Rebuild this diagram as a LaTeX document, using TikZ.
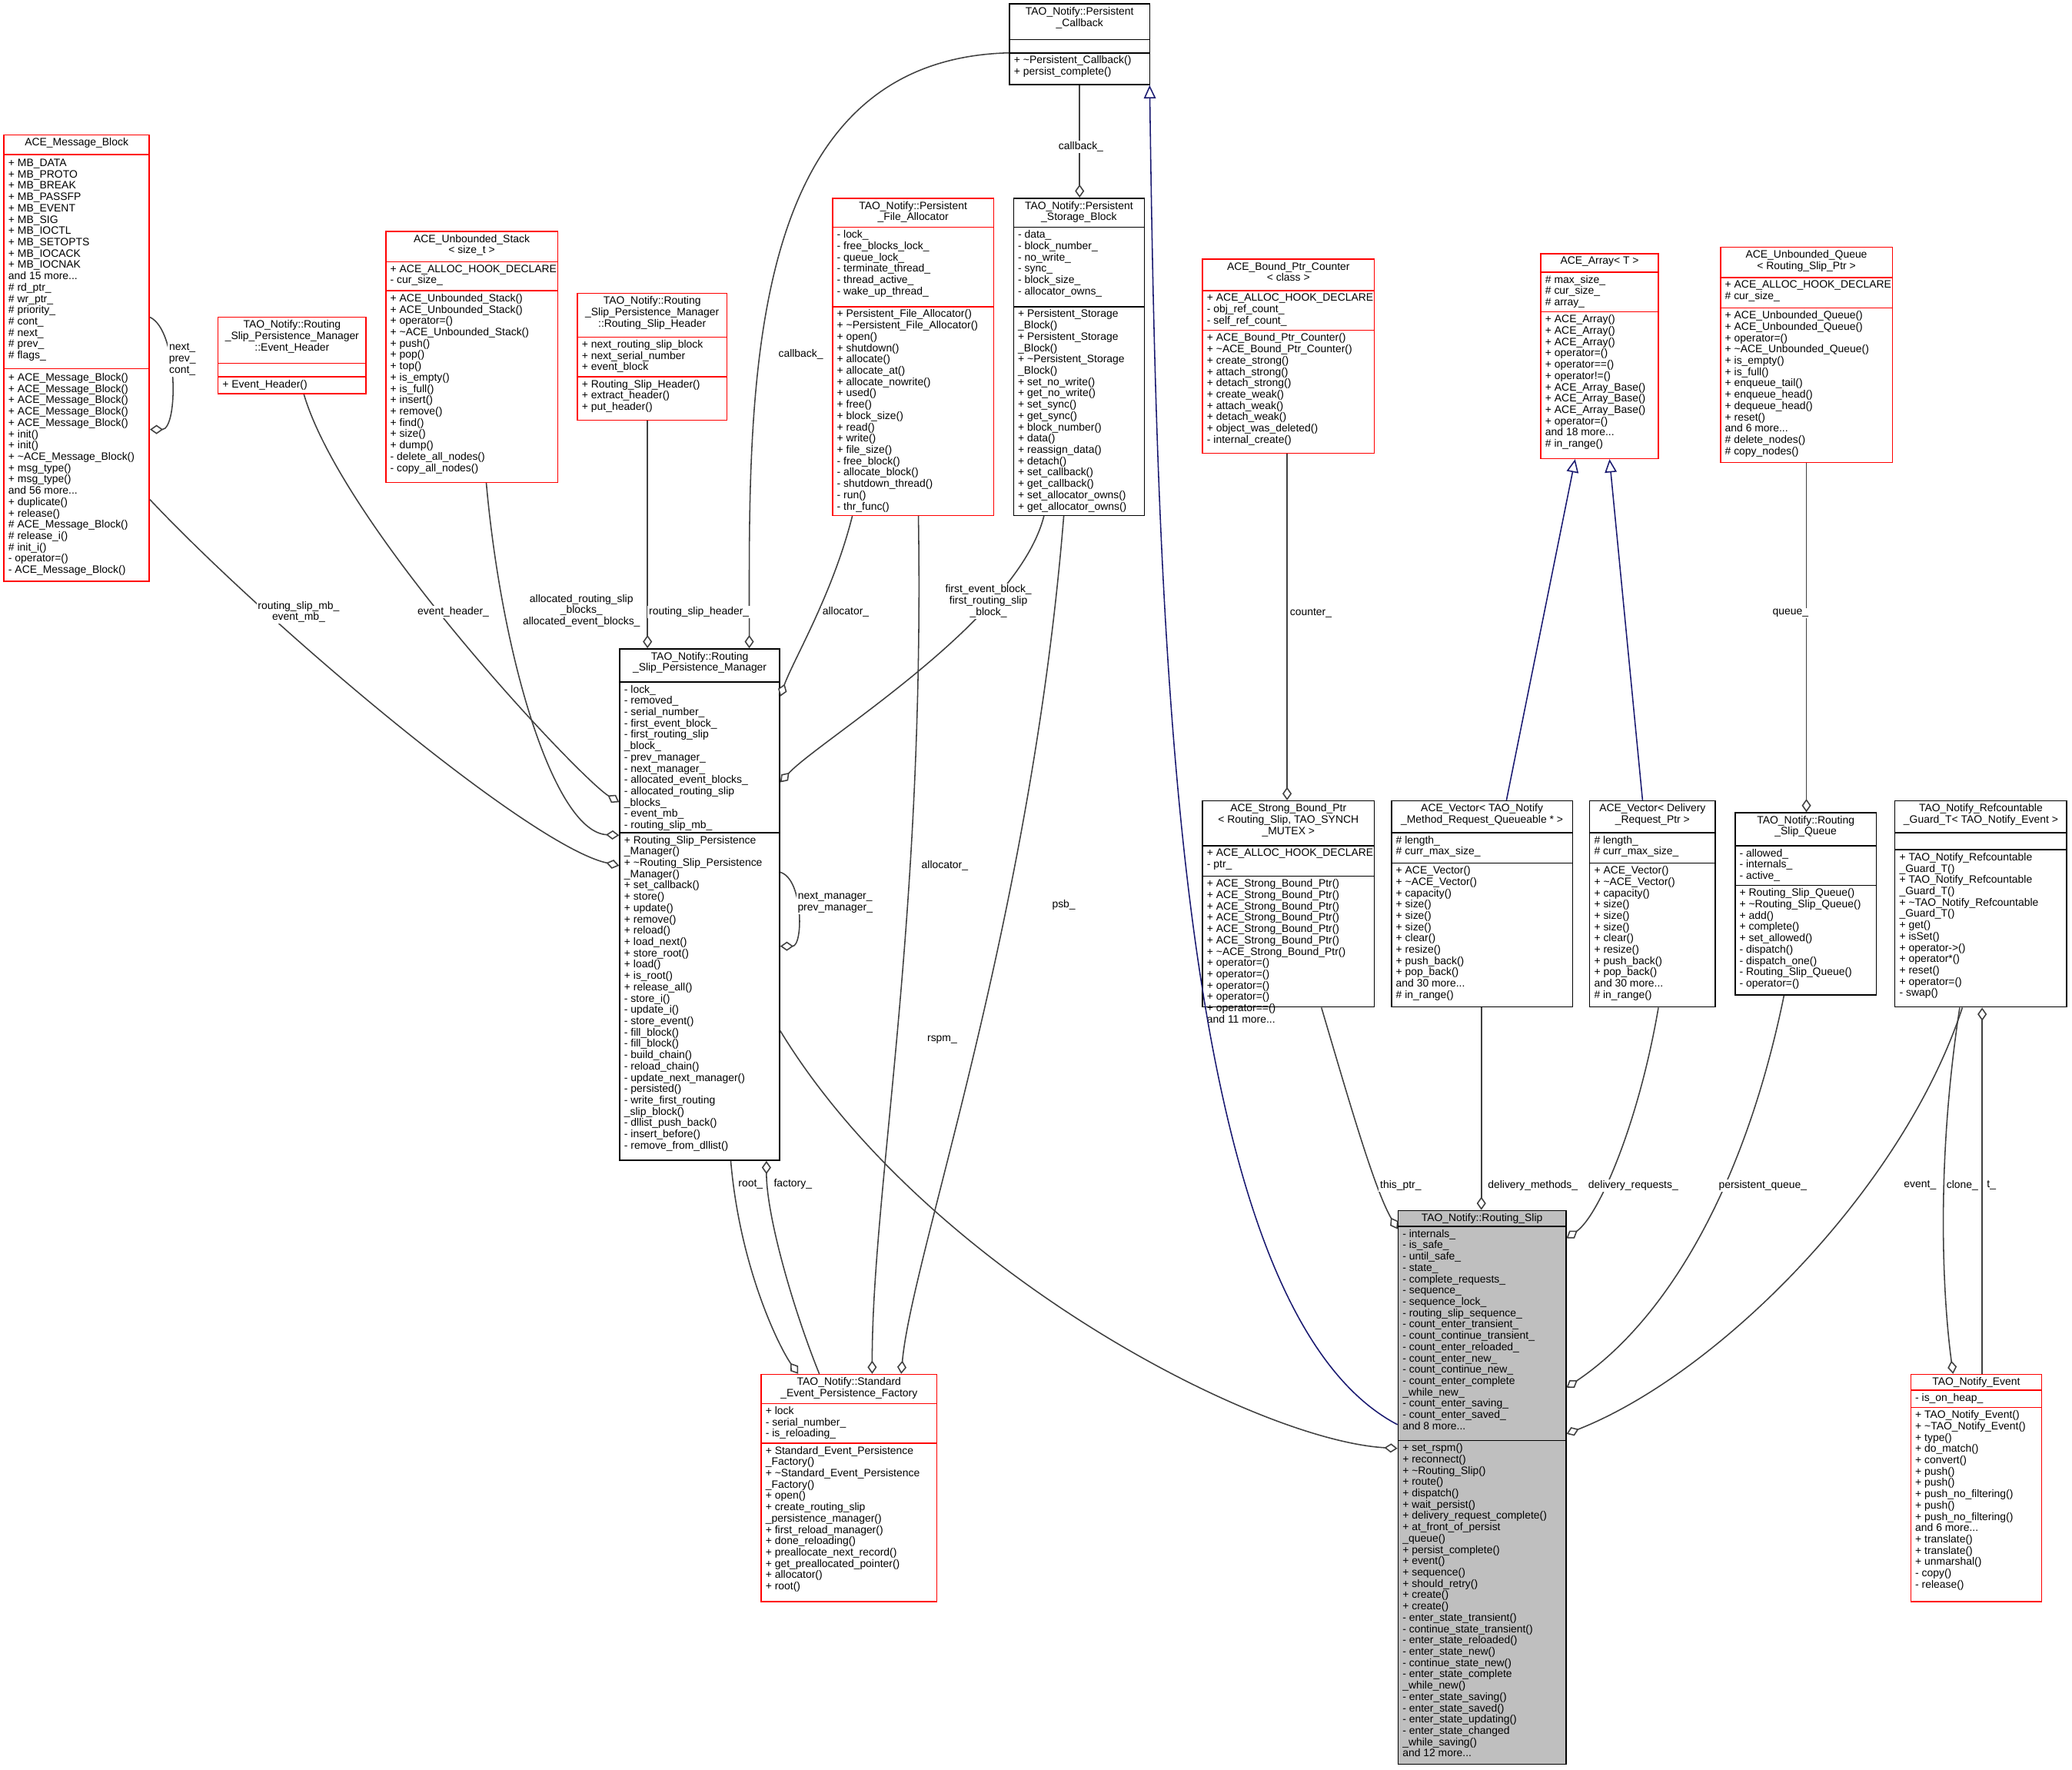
\documentclass[tikz,border=0pt]{standalone}
\usepackage{fontspec}
\setmainfont{Liberation Sans}
\usetikzlibrary{arrows.meta,fit}
\definecolor{navy}{HTML}{191970}
\tikzset{
 every picture/.style={x=0.5pt,y=-0.5pt},
 tx/.style={font=\fontsize{4.05}{4.28}\selectfont, inner sep=0, align=left, anchor=north west},
 tt/.style={font=\fontsize{4.05}{4.28}\selectfont, inner sep=0, align=center, anchor=north},
 lb/.style={font=\fontsize{4.05}{4.28}\selectfont, inner sep=0.5pt, align=center, fill=white},
 agg/.style={draw=black!75, line width=0.45pt, -{Diamond[length=5pt,width=3.5pt,fill=white]}},
 inh/.style={draw=navy, line width=0.45pt, -{Triangle[length=5pt,width=4.5pt,fill=white]}},
}
\newcommand\cls[8]{%
 \coordinate (#1-nw) at (#2,#3); \coordinate (#1-se) at (#4,#7);
 \node[fit=(#1-nw)(#1-se), inner sep=0, draw=#8, line width=0.45pt] (#1) {};
 \draw[draw=#8, line width=0.45pt] (#2,#5) -- (#4,#5) (#2,#6) -- (#4,#6);
}
\begin{document}
\begin{tikzpicture}
\useasboundingbox (0,0) rectangle (1568,1339);
\fill[white] (0,0) rectangle (1568,1339);
\fill[gray!50] (1058,916) rectangle (1185,1335);
% classes
\cls{pc}{764}{3}{870}{30}{40}{64}{black}
\node[tt] (pc-t) at (817,5) {TAO\_Notify::Persistent\\\_Callback};
\node[tx] (pc-m) at (767,42) {+ \textasciitilde Persistent\_Callback()\\+ persist\_complete()};

\cls{mb}{3}{102}{113}{117}{279}{440}{red}
\node[tt] (mb-t) at (58,104) {ACE\_Message\_Block};
\node[tx] (mb-a) at (6,120) {+ MB\_DATA\\+ MB\_PROTO\\+ MB\_BREAK\\+ MB\_PASSFP\\+ MB\_EVENT\\+ MB\_SIG\\+ MB\_IOCTL\\+ MB\_SETOPTS\\+ MB\_IOCACK\\+ MB\_IOCNAK\\and 15 more...\\\# rd\_ptr\_\\\# wr\_ptr\_\\\# priority\_\\\# cont\_\\\# next\_\\\# prev\_\\\# flags\_};
\node[tx] (mb-m) at (6,282) {+ ACE\_Message\_Block()\\+ ACE\_Message\_Block()\\+ ACE\_Message\_Block()\\+ ACE\_Message\_Block()\\+ ACE\_Message\_Block()\\+ init()\\+ init()\\+ \textasciitilde ACE\_Message\_Block()\\+ msg\_type()\\+ msg\_type()\\and 56 more...\\+ duplicate()\\+ release()\\\# ACE\_Message\_Block()\\\# release\_i()\\\# init\_i()\\- operator=()\\- ACE\_Message\_Block()};

\cls{eh}{165}{240}{277}{275}{285}{298}{red}
\node[tt] (eh-t) at (221,242) {TAO\_Notify::Routing\\\_Slip\_Persistence\_Manager\\::Event\_Header};
\node[tx] (eh-m) at (168,287) {+ Event\_Header()};

\cls{stk}{292}{175}{422}{198}{220}{365}{red}
\node[tt] (stk-t) at (357,177) {ACE\_Unbounded\_Stack\\< size\_t >};
\node[tx] (stk-a) at (295,200) {+ ACE\_ALLOC\_HOOK\_DECLARE\\- cur\_size\_};
\node[tx] (stk-m) at (295,222) {+ ACE\_Unbounded\_Stack()\\+ ACE\_Unbounded\_Stack()\\+ operator=()\\+ \textasciitilde ACE\_Unbounded\_Stack()\\+ push()\\+ pop()\\+ top()\\+ is\_empty()\\+ is\_full()\\+ insert()\\+ remove()\\+ find()\\+ size()\\+ dump()\\- delete\_all\_nodes()\\- copy\_all\_nodes()};

\cls{rsh}{437}{222}{550}{255}{285}{318}{red}
\node[tt] (rsh-t) at (493.5,224) {TAO\_Notify::Routing\\\_Slip\_Persistence\_Manager\\::Routing\_Slip\_Header};
\node[tx] (rsh-a) at (440,257) {+ next\_routing\_slip\_block\\+ next\_serial\_number\\+ event\_block};
\node[tx] (rsh-m) at (440,287) {+ Routing\_Slip\_Header()\\+ extract\_header()\\+ put\_header()};

\cls{fa}{630}{150}{752}{172}{232}{390}{red}
\node[tt] (fa-t) at (691,152) {TAO\_Notify::Persistent\\\_File\_Allocator};
\node[tx] (fa-a) at (633,174) {- lock\_\\- free\_blocks\_lock\_\\- queue\_lock\_\\- terminate\_thread\_\\- thread\_active\_\\- wake\_up\_thread\_};
\node[tx] (fa-m) at (633,234) {+ Persistent\_File\_Allocator()\\+ \textasciitilde Persistent\_File\_Allocator()\\+ open()\\+ shutdown()\\+ allocate()\\+ allocate\_at()\\+ allocate\_nowrite()\\+ used()\\+ free()\\+ block\_size()\\+ read()\\+ write()\\+ file\_size()\\- free\_block()\\- allocate\_block()\\- shutdown\_thread()\\- run()\\- thr\_func()};

\cls{psb}{767}{150}{866}{172}{232}{390}{black}
\node[tt] (psb-t) at (816.5,152) {TAO\_Notify::Persistent\\\_Storage\_Block};
\node[tx] (psb-a) at (770,174) {- data\_\\- block\_number\_\\- no\_write\_\\- sync\_\\- block\_size\_\\- allocator\_owns\_};
\node[tx] (psb-m) at (770,234) {+ Persistent\_Storage\\\_Block()\\+ Persistent\_Storage\\\_Block()\\+ \textasciitilde Persistent\_Storage\\\_Block()\\+ set\_no\_write()\\+ get\_no\_write()\\+ set\_sync()\\+ get\_sync()\\+ block\_number()\\+ data()\\+ reassign\_data()\\+ detach()\\+ set\_callback()\\+ get\_callback()\\+ set\_allocator\_owns()\\+ get\_allocator\_owns()};

\cls{bpc}{910}{196}{1040}{220}{250}{343}{red}
\node[tt] (bpc-t) at (975,198) {ACE\_Bound\_Ptr\_Counter\\< class >};
\node[tx] (bpc-a) at (913,222) {+ ACE\_ALLOC\_HOOK\_DECLARE\\- obj\_ref\_count\_\\- self\_ref\_count\_};
\node[tx] (bpc-m) at (913,252) {+ ACE\_Bound\_Ptr\_Counter()\\+ \textasciitilde ACE\_Bound\_Ptr\_Counter()\\+ create\_strong()\\+ attach\_strong()\\+ detach\_strong()\\+ create\_weak()\\+ attach\_weak()\\+ detach\_weak()\\+ object\_was\_deleted()\\- internal\_create()};

\cls{arr}{1166}{192}{1255}{206}{236}{347}{red}
\node[tt] (arr-t) at (1210.5,194) {ACE\_Array< T >};
\node[tx] (arr-a) at (1169,208) {\# max\_size\_\\\# cur\_size\_\\\# array\_};
\node[tx] (arr-m) at (1169,238) {+ ACE\_Array()\\+ ACE\_Array()\\+ ACE\_Array()\\+ operator=()\\+ operator==()\\+ operator!=()\\+ ACE\_Array\_Base()\\+ ACE\_Array\_Base()\\+ ACE\_Array\_Base()\\+ operator=()\\and 18 more...\\\# in\_range()};

\cls{ubq}{1302}{187}{1432}{210}{233}{350}{red}
\node[tt] (ubq-t) at (1367,189) {ACE\_Unbounded\_Queue\\< Routing\_Slip\_Ptr >};
\node[tx] (ubq-a) at (1305,212) {+ ACE\_ALLOC\_HOOK\_DECLARE\\\# cur\_size\_};
\node[tx] (ubq-m) at (1305,235) {+ ACE\_Unbounded\_Queue()\\+ ACE\_Unbounded\_Queue()\\+ operator=()\\+ \textasciitilde ACE\_Unbounded\_Queue()\\+ is\_empty()\\+ is\_full()\\+ enqueue\_tail()\\+ enqueue\_head()\\+ dequeue\_head()\\+ reset()\\and 6 more...\\\# delete\_nodes()\\\# copy\_nodes()};

\cls{rspm}{469}{491}{590}{516}{630}{878}{black}
\node[tt] (rspm-t) at (529.5,493) {TAO\_Notify::Routing\\\_Slip\_Persistence\_Manager};
\node[tx] (rspm-a) at (472,518) {- lock\_\\- removed\_\\- serial\_number\_\\- first\_event\_block\_\\- first\_routing\_slip\\\_block\_\\- prev\_manager\_\\- next\_manager\_\\- allocated\_event\_blocks\_\\- allocated\_routing\_slip\\\_blocks\_\\- event\_mb\_\\- routing\_slip\_mb\_};
\node[tx] (rspm-m) at (472,632) {+ Routing\_Slip\_Persistence\\\_Manager()\\+ \textasciitilde Routing\_Slip\_Persistence\\\_Manager()\\+ set\_callback()\\+ store()\\+ update()\\+ remove()\\+ reload()\\+ load\_next()\\+ store\_root()\\+ load()\\+ is\_root()\\+ release\_all()\\- store\_i()\\- update\_i()\\- store\_event()\\- fill\_block()\\- fill\_block()\\- build\_chain()\\- reload\_chain()\\- update\_next\_manager()\\- persisted()\\- write\_first\_routing\\\_slip\_block()\\- dllist\_push\_back()\\- insert\_before()\\- remove\_from\_dllist()};

\cls{sbp}{910}{606}{1040}{640}{663}{762}{black}
\node[tt] (sbp-t) at (975,608) {ACE\_Strong\_Bound\_Ptr\\< Routing\_Slip, TAO\_SYNCH\\\_MUTEX >};
\node[tx] (sbp-a) at (913,642) {+ ACE\_ALLOC\_HOOK\_DECLARE\\- ptr\_};
\node[tx] (sbp-m) at (913,665) {+ ACE\_Strong\_Bound\_Ptr()\\+ ACE\_Strong\_Bound\_Ptr()\\+ ACE\_Strong\_Bound\_Ptr()\\+ ACE\_Strong\_Bound\_Ptr()\\+ ACE\_Strong\_Bound\_Ptr()\\+ ACE\_Strong\_Bound\_Ptr()\\+ \textasciitilde ACE\_Strong\_Bound\_Ptr()\\+ operator=()\\+ operator=()\\+ operator=()\\+ operator=()\\+ operator==()\\and 11 more...};

\cls{vmr}{1053}{606}{1190}{630}{653}{762}{black}
\node[tt] (vmr-t) at (1121.5,608) {ACE\_Vector< TAO\_Notify\\\_Method\_Request\_Queueable * >};
\node[tx] (vmr-a) at (1056,632) {\# length\_\\\# curr\_max\_size\_};
\node[tx] (vmr-m) at (1056,655) {+ ACE\_Vector()\\+ \textasciitilde ACE\_Vector()\\+ capacity()\\+ size()\\+ size()\\+ size()\\+ clear()\\+ resize()\\+ push\_back()\\+ pop\_back()\\and 30 more...\\\# in\_range()};

\cls{vdr}{1203}{606}{1298}{630}{653}{762}{black}
\node[tt] (vdr-t) at (1250.5,608) {ACE\_Vector< Delivery\\\_Request\_Ptr >};
\node[tx] (vdr-a) at (1206,632) {\# length\_\\\# curr\_max\_size\_};
\node[tx] (vdr-m) at (1206,655) {+ ACE\_Vector()\\+ \textasciitilde ACE\_Vector()\\+ capacity()\\+ size()\\+ size()\\+ size()\\+ clear()\\+ resize()\\+ push\_back()\\+ pop\_back()\\and 30 more...\\\# in\_range()};

\cls{rsq}{1313}{615}{1420}{640}{670}{753}{black}
\node[tt] (rsq-t) at (1366.5,617) {TAO\_Notify::Routing\\\_Slip\_Queue};
\node[tx] (rsq-a) at (1316,642) {- allowed\_\\- internals\_\\- active\_};
\node[tx] (rsq-m) at (1316,672) {+ Routing\_Slip\_Queue()\\+ \textasciitilde Routing\_Slip\_Queue()\\+ add()\\+ complete()\\+ set\_allowed()\\- dispatch()\\- dispatch\_one()\\- Routing\_Slip\_Queue()\\- operator=()};

\cls{rg}{1434}{606}{1564}{630}{643}{762}{black}
\node[tt] (rg-t) at (1499,608) {TAO\_Notify\_Refcountable\\\_Guard\_T< TAO\_Notify\_Event >};
\node[tx] (rg-m) at (1437,645) {+ TAO\_Notify\_Refcountable\\\_Guard\_T()\\+ TAO\_Notify\_Refcountable\\\_Guard\_T()\\+ \textasciitilde TAO\_Notify\_Refcountable\\\_Guard\_T()\\+ get()\\+ isSet()\\+ operator->()\\+ operator*()\\+ reset()\\+ operator=()\\- swap()};

\cls{rs}{1058}{916}{1185}{928}{1090}{1335}{black}
\node[tt] (rs-t) at (1121.5,918) {TAO\_Notify::Routing\_Slip};
\node[tx] (rs-a) at (1061,930) {- internals\_\\- is\_safe\_\\- until\_safe\_\\- state\_\\- complete\_requests\_\\- sequence\_\\- sequence\_lock\_\\- routing\_slip\_sequence\_\\- count\_enter\_transient\_\\- count\_continue\_transient\_\\- count\_enter\_reloaded\_\\- count\_enter\_new\_\\- count\_continue\_new\_\\- count\_enter\_complete\\\_while\_new\_\\- count\_enter\_saving\_\\- count\_enter\_saved\_\\and 8 more...};
\node[tx] (rs-m) at (1061,1092) {+ set\_rspm()\\+ reconnect()\\+ \textasciitilde Routing\_Slip()\\+ route()\\+ dispatch()\\+ wait\_persist()\\+ delivery\_request\_complete()\\+ at\_front\_of\_persist\\\_queue()\\+ persist\_complete()\\+ event()\\+ sequence()\\+ should\_retry()\\+ create()\\+ create()\\- enter\_state\_transient()\\- continue\_state\_transient()\\- enter\_state\_reloaded()\\- enter\_state\_new()\\- continue\_state\_new()\\- enter\_state\_complete\\\_while\_new()\\- enter\_state\_saving()\\- enter\_state\_saved()\\- enter\_state\_updating()\\- enter\_state\_changed\\\_while\_saving()\\and 12 more...};

\cls{fac}{576}{1040}{709}{1062}{1092}{1212}{red}
\node[tt] (fac-t) at (642.5,1042) {TAO\_Notify::Standard\\\_Event\_Persistence\_Factory};
\node[tx] (fac-a) at (579,1064) {+ lock\\- serial\_number\_\\- is\_reloading\_};
\node[tx] (fac-m) at (579,1094) {+ Standard\_Event\_Persistence\\\_Factory()\\+ \textasciitilde Standard\_Event\_Persistence\\\_Factory()\\+ open()\\+ create\_routing\_slip\\\_persistence\_manager()\\+ first\_reload\_manager()\\+ done\_reloading()\\+ preallocate\_next\_record()\\+ get\_preallocated\_pointer()\\+ allocator()\\+ root()};

\cls{ev}{1446}{1040}{1545}{1052}{1065}{1212}{red}
\node[tt] (ev-t) at (1495.5,1042) {TAO\_Notify\_Event};
\node[tx] (ev-a) at (1449,1054) {- is\_on\_heap\_};
\node[tx] (ev-m) at (1449,1067) {+ TAO\_Notify\_Event()\\+ \textasciitilde TAO\_Notify\_Event()\\+ type()\\+ do\_match()\\+ convert()\\+ push()\\+ push()\\+ push\_no\_filtering()\\+ push()\\+ push\_no\_filtering()\\and 6 more...\\+ translate()\\+ translate()\\+ unmarshal()\\- copy()\\- release()};

% edges
\draw[agg] (pc.west |- 0,40) .. controls (560,45) and (567,300) .. (rspm.north -| 567,0);
\draw[agg] (pc.south -| 817,0) -- (psb.north -| 817,0);
\draw[inh] (rs.west |- 0,1078) .. controls (890,990) and (876,500) .. (pc.south -| 870,0);
\draw[agg] (mb.east |- 0,378) .. controls (200,470) and (400,640) .. (rspm.west |- 0,655);
\draw[agg] (mb.east |- 0,240) .. controls (135,250) and (135,325) .. (mb.east |- 0,325);
\draw[agg] (eh.south -| 230,0) .. controls (260,400) and (440,590) .. (rspm.west |- 0,607);
\draw[agg] (stk.south -| 368,0) .. controls (380,500) and (420,630) .. (rspm.west |- 0,632);
\draw[agg] (rsh.south -| 490,0) -- (rspm.north -| 490,0);
\draw[agg] (fa.south -| 645,0) .. controls (630,450) and (600,500) .. (rspm.east |- 0,527);
\draw[agg] (psb.south -| 790,0) .. controls (770,470) and (620,560) .. (rspm.east |- 0,592);
\draw[agg] (rspm.east |- 0,660) .. controls (608,665) and (608,716) .. (rspm.east |- 0,716);
\draw[agg] (rspm.east |- 0,780) .. controls (700,960) and (950,1090) .. (rs.west |- 0,1096);
\draw[agg] (rspm.south -| 553,0) .. controls (560,960) and (590,1020) .. (fac.north -| 604,0);
\draw[agg] (fac.north -| 620,0) .. controls (600,990) and (580,920) .. (rspm.south -| 580,0);
\draw[agg] (fa.south -| 695,0) .. controls (700,700) and (660,900) .. (fac.north -| 660,0);
\draw[agg] (psb.south -| 805,0) .. controls (780,700) and (690,950) .. (fac.north -| 682,0);
\draw[agg] (bpc.south -| 974,0) -- (sbp.north -| 974,0);
\draw[agg] (sbp.south -| 1000,0) .. controls (1020,830) and (1040,900) .. (rs.west |- 0,930);
\draw[agg] (vmr.south -| 1121,0) -- (rs.north -| 1121,0);
\draw[agg] (vdr.south -| 1255,0) .. controls (1240,850) and (1210,920) .. (rs.east |- 0,937);
\draw[inh] (vmr.north -| 1140,0) -- (arr.south -| 1192,0);
\draw[inh] (vdr.north -| 1243,0) -- (arr.south -| 1218,0);
\draw[agg] (ubq.south -| 1367,0) -- (rsq.north -| 1367,0);
\draw[agg] (rsq.south -| 1350,0) .. controls (1320,900) and (1260,1000) .. (rs.east |- 0,1050);
\draw[agg] (rg.south -| 1485,0) .. controls (1440,900) and (1300,1040) .. (rs.east |- 0,1085);
\draw[agg] (rg.south -| 1483,0) .. controls (1465,880) and (1470,980) .. (ev.north -| 1478,0);
\draw[agg] (ev.north -| 1500,0) -- (rg.south -| 1500,0);

% labels
\node[lb] (l1) at (606,268) {callback\_};
\node[lb] (l2) at (818,111) {callback\_};
\node[lb] (l3) at (226,463) {routing\_slip\_mb\_\\event\_mb\_};
\node[lb] (l4) at (138,272) {next\_\\prev\_\\cont\_};
\node[lb] (l5) at (343,463) {event\_header\_};
\node[lb] (l6) at (440,462) {allocated\_routing\_slip\\\_blocks\_\\allocated\_event\_blocks\_};
\node[lb] (l7) at (529,463) {routing\_slip\_header\_};
\node[lb] (l8) at (640,463) {allocator\_};
\node[lb] (l9) at (748,455) {first\_event\_block\_\\first\_routing\_slip\\\_block\_};
\node[lb] (l10) at (632,683) {next\_manager\_\\prev\_manager\_};
\node[lb] (l11) at (713,787) {rspm\_};
\node[lb] (l12) at (568,896) {root\_};
\node[lb] (l13) at (600,896) {factory\_};
\node[lb] (l14) at (715,655) {allocator\_};
\node[lb] (l15) at (805,685) {psb\_};
\node[lb] (l16) at (992,464) {counter\_};
\node[lb] (l17) at (1060,897) {this\_ptr\_};
\node[lb] (l18) at (1160,897) {delivery\_methods\_};
\node[lb] (l19) at (1236,897) {delivery\_requests\_};
\node[lb] (l20) at (1355,464) {queue\_};
\node[lb] (l21) at (1334,897) {persistent\_queue\_};
\node[lb] (l22) at (1453,897) {event\_};
\node[lb] (l23) at (1485,897) {clone\_};
\node[lb] (l24) at (1507,897) {t\_};
\end{tikzpicture}
\end{document}
